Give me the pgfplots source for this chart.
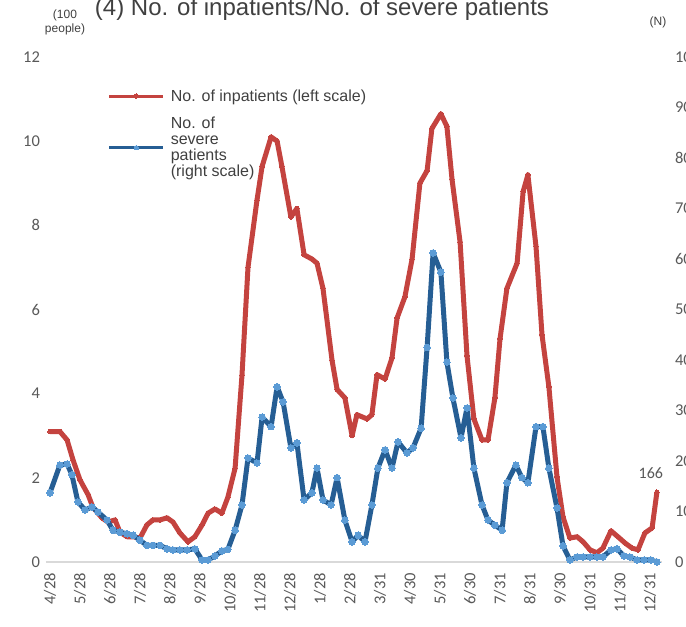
\documentclass[border=0pt]{standalone}
\usepackage{fontspec}
\setmainfont{Liberation Sans}
\newfontfamily\tickfont{Carlito}
\usepackage{pgfplots}
\pgfplotsset{compat=1.18}
\definecolor{redL}{RGB}{196,67,63}
\definecolor{blueL}{RGB}{38,94,148}
\definecolor{blueM}{RGB}{91,155,213}
\definecolor{txt}{RGB}{64,64,64}
\definecolor{tickc}{RGB}{89,89,89}
\definecolor{axisgray}{RGB}{217,217,217}

\pgfplotstableread{
x y
0 3.1
0.33 3.1
0.57 2.9
0.77 2.42
1.0 1.95
1.27 1.6
1.43 1.3
1.73 1.05
1.93 0.95
2.17 1.0
2.33 0.71
2.57 0.6
2.77 0.6
3.0 0.57
3.23 0.88
3.43 1.0
3.67 1.0
3.9 1.05
4.1 0.95
4.33 0.69
4.6 0.48
4.83 0.6
5.07 0.88
5.27 1.16
5.5 1.26
5.73 1.16
5.93 1.54
6.17 2.23
6.4 4.44
6.6 7.0
6.9 8.6
7.07 9.4
7.37 10.1
7.57 10.0
7.73 9.4
8.03 8.2
8.23 8.4
8.47 7.3
8.73 7.2
8.9 7.1
9.1 6.5
9.4 4.8
9.57 4.1
9.83 3.9
10.07 3.0
10.23 3.5
10.57 3.4
10.73 3.5
10.9 4.45
11.17 4.35
11.4 4.85
11.57 5.8
11.83 6.3
12.07 7.2
12.33 9.0
12.57 9.3
12.73 10.3
13.03 10.65
13.23 10.35
13.4 9.1
13.67 7.6
13.9 4.9
14.13 3.4
14.4 2.9
14.6 2.9
14.83 3.9
15.0 5.3
15.23 6.5
15.57 7.1
15.77 8.8
15.93 9.2
16.2 7.5
16.4 5.4
16.63 4.16
16.9 2.02
17.1 1.07
17.33 0.57
17.57 0.6
17.77 0.48
18.0 0.29
18.23 0.22
18.43 0.33
18.7 0.74
18.93 0.6
19.17 0.45
19.4 0.33
19.6 0.29
19.83 0.69
20.07 0.81
20.23 1.66
}\inpatients

\pgfplotstableread{
x y
0 13.7
0.33 19.2
0.57 19.4
0.73 17.3
0.93 11.9
1.17 10.3
1.4 10.9
1.6 9.9
1.9 8.3
2.1 6.3
2.33 5.9
2.57 5.6
2.77 5.3
3.0 4.3
3.23 3.3
3.43 3.3
3.67 3.3
3.9 2.6
4.1 2.4
4.33 2.4
4.57 2.4
4.83 2.6
5.07 0.4
5.27 0.4
5.5 1.2
5.73 2.2
5.93 2.5
6.17 6.3
6.4 11.3
6.6 20.6
6.9 19.6
7.07 28.7
7.37 26.8
7.57 34.7
7.77 31.7
8.03 22.6
8.23 23.6
8.47 12.3
8.73 13.7
8.9 18.6
9.1 12.3
9.37 11.3
9.57 16.7
9.83 8.3
10.07 4.0
10.27 5.3
10.5 4.0
10.73 11.3
10.93 18.6
11.17 22.2
11.4 18.6
11.6 23.8
11.9 21.6
12.1 22.6
12.37 26.5
12.57 42.5
12.77 61.2
13.03 57.4
13.23 39.6
13.43 32.5
13.7 24.6
13.9 30.5
14.13 18.6
14.4 11.3
14.6 8.3
14.83 7.3
15.07 6.3
15.23 15.7
15.53 19.2
15.73 16.7
15.93 15.7
16.2 26.8
16.43 26.8
16.63 18.6
16.9 10.7
17.1 3.2
17.33 0.4
17.57 1.0
17.77 1.0
18.0 1.0
18.23 1.0
18.43 1.0
18.7 2.4
18.9 2.6
19.13 1.2
19.33 1.0
19.57 0.4
19.8 0.4
20.03 0.4
20.23 0
}\severe

\begin{document}
\begin{tikzpicture}[x=1pt,y=1pt]
\pgfplotsset{
  common/.style={
    at={(46pt,-562pt)}, anchor=south west,
    scale only axis, width=616pt, height=505pt,
    xmin=-0.133, xmax=20.4,
    major tick length=0pt,
    /pgf/number format/assume math mode=true,
    ticklabel style={font=\tickfont\fontsize{16.5}{16.5}\selectfont, text=tickc},
  }
}
\begin{axis}[common,
  ymin=0, ymax=12,
  axis x line*=bottom, axis y line*=left,
  x axis line style={draw=axisgray, line width=2pt, -},
  y axis line style={draw=none},
  xtick={0,...,20},
  xticklabels={4/28,5/28,6/28,7/28,8/28,9/28,10/28,11/28,12/28,1/28,2/28,3/31,4/30,5/31,6/30,7/31,8/31,9/30,10/31,11/30,12/31},
  xticklabel style={rotate=90, anchor=east},
  xticklabel shift=7.5pt,
  ytick={0,2,...,12},
  yticklabel shift=2.5pt,
  legend cell align=left,
  legend image code/.code={
    \draw[mark repeat=2, mark phase=2, #1, line width=3pt]
      plot coordinates {(0pt,0pt) (27pt,0pt) (54pt,0pt)};
  },
  legend style={at={(rel axis cs:0.10,0.940)}, anchor=north west,
    draw=none, fill=none, inner sep=0pt,
    font=\fontsize{16}{16}\selectfont, text=txt,
    row sep=10pt,
    /tikz/every odd column/.append style={column sep=4pt}},
]
\addplot[color=redL, line width=5pt, line join=round, mark=*, mark size=2.2pt,
  mark options={fill=redL, draw=redL, line width=0pt}]
  table[x=x,y=y]{\inpatients}
  node[pos=1, anchor=center, inner sep=0pt, xshift=-6pt, yshift=19pt, text=tickc,
       font=\tickfont\fontsize{16}{16}\selectfont] {166};
\addlegendentry{No. of inpatients (left scale)}
\addlegendimage{color=blueL, yshift=-12pt, mark=*, mark size=2.2pt, mark options={fill=blueM, draw=blueM, line width=0pt}}
\addlegendentry{\begin{tabular}{@{}l@{}}No. of\\ severe\\ patients\\ (right scale)\end{tabular}}
\end{axis}
\begin{axis}[common,
  ymin=0, ymax=100,
  axis x line=none, axis y line*=right,
  y axis line style={draw=none},
  ytick={0,10,...,100},
  yticklabel style={anchor=west},
  yticklabel shift=9.5pt,
]
\addplot[color=blueL, line width=5pt, line join=round, mark=*, mark size=3.3pt,
  mark options={fill=blueM, draw=blueM, line width=0pt}]
  table[x=x,y=y]{\severe}
  node[pos=1, anchor=west, inner sep=0pt, xshift=9pt, yshift=10pt, text=tickc,
       font=\tickfont\fontsize{16}{16}\selectfont] {0};
\end{axis}
\node[anchor=base, text=txt, font=\fontsize{24}{28}\selectfont, inner sep=0pt] at (322,-15) {(4) No. of inpatients/No. of severe patients};
\node[align=center, text=txt, font=\fontsize{12}{14}\selectfont, inner sep=0pt] at (65,-22) {(100\\people)};
\node[text=txt, font=\fontsize{12}{14}\selectfont, inner sep=0pt] at (658,-22) {(N)};
\pgfresetboundingbox
\path[use as bounding box] (0,0) rectangle (686,-627);
\end{tikzpicture}
\end{document}
